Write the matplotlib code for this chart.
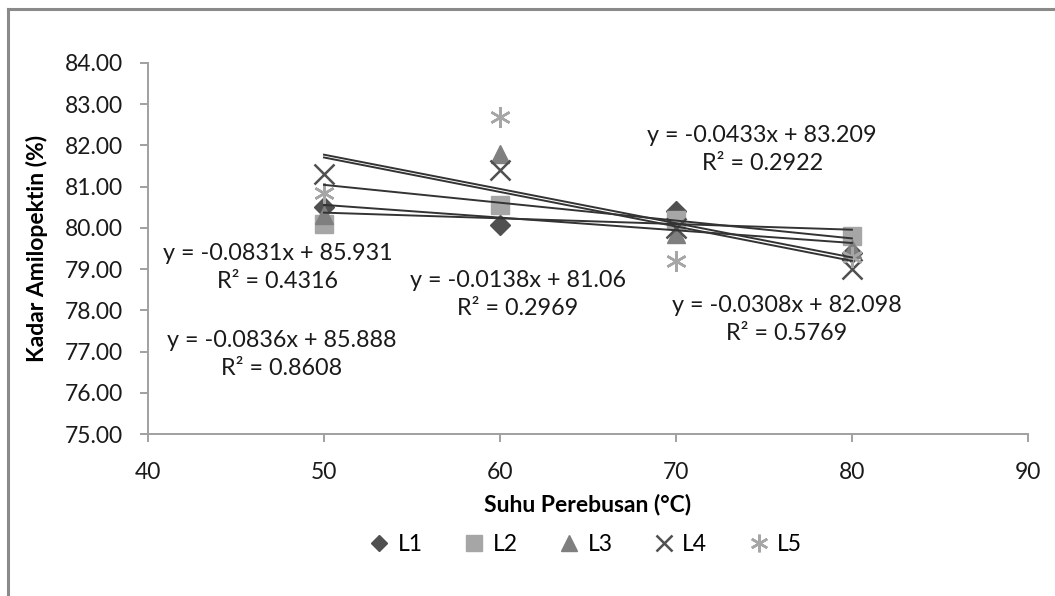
import numpy as np
import matplotlib
matplotlib.use("Agg")
import matplotlib.pyplot as plt
from matplotlib.lines import Line2D

plt.rcParams['font.family'] = ['Lato', 'DejaVu Sans']

# data
suhu = [50, 60, 70, 80]
labels = ["L1", "L2", "L3", "L4", "L5"]
L1 = [80.50, 80.07, 80.40, 79.40]
L2 = [80.10, 80.55, 80.20, 79.80]
L3 = [80.32, 81.80, 79.85, 79.50]
L4 = [81.30, 81.40, 80.00, 79.00]
L5 = [80.85, 82.70, 79.20, 79.30]

# trendline coefficients as printed on the chart
slopes = [-0.0308, -0.0138, -0.0433, -0.0836, -0.0831]
intercepts = [82.098, 81.06, 83.209, 85.888, 85.931]
r2 = ["0.5769", "0.2969", "0.2922", "0.8608", "0.4316"]
eq_x = [76.3, 61.0, 74.9, 47.6, 47.35]
eq_y = [77.77, 78.38, 81.91, 76.92, 79.03]

series = [L1, L2, L3, L4, L5]
markers = ["D", "s", "^", "x", (6, 2, 0)]
colors = ["#505050", "#a6a6a6", "#7f7f7f", "#505050", "#a6a6a6"]
sizes = [10, 13, 13, 14, 15]

fig = plt.figure(figsize=(10.55, 5.96), dpi=100)
ax = fig.add_axes([0.1403, 0.2718, 0.834, 0.6225])

for y, lab, m, c, s in zip(series, labels, markers, colors, sizes):
    ax.plot(suhu, y, linestyle="none", marker=m, color=c, markersize=s,
            markeredgewidth=1.8 if m in ("x", (6, 2, 0)) else 1, label=lab, zorder=3)

xs = np.array([suhu[0], suhu[-1]])
for a, b in zip(slopes, intercepts):
    ax.plot(xs, a * xs + b, color="#333333", lw=1.4, zorder=4)

for a, b, r, tx, ty in zip(slopes, intercepts, r2, eq_x, eq_y):
    ax.text(tx, ty, f"y = {a}x + {b}\nR² = {r}", ha="center", va="center",
            fontsize=16.8, linespacing=1.4, color="#1a1a1a")

ax.set_xlim(40, 90)
ax.set_ylim(75, 84)
ax.set_xticks(range(40, 91, 10))
ax.set_yticks(np.arange(75, 84.1, 1))
ax.yaxis.set_major_formatter(matplotlib.ticker.FormatStrFormatter("%.2f"))
ax.tick_params(labelsize=16.5, colors="#909090", labelcolor="#1a1a1a",
               length=6, width=1.2)
ax.tick_params(axis="y", pad=12)
ax.tick_params(axis="x", pad=14)
for side in ("top", "right"):
    ax.spines[side].set_visible(False)
for side in ("left", "bottom"):
    ax.spines[side].set_color("#a0a0a0")
    ax.spines[side].set_linewidth(1.4)

ax.set_xlabel("Suhu Perebusan (°C)", fontsize=16.5, fontweight="bold", labelpad=8)
ax.set_ylabel("Kadar Amilopektin (%)", fontsize=16.5, fontweight="bold", labelpad=12)

fig.legend(loc="center", bbox_to_anchor=(0.5545, 0.086), ncol=5, frameon=False,
           fontsize=16.5, handlelength=1.0, handletextpad=0.3, columnspacing=1.75,
           markerscale=0.85)

# chart area border
fig.add_artist(Line2D([0.0075, 0.0075], [0.0, 0.985], color="#8a8a8a", lw=2.2))
fig.add_artist(Line2D([0.0075, 1.0], [0.985, 0.985], color="#8a8a8a", lw=2.2))

fig.savefig("out.png", dpi=100)
